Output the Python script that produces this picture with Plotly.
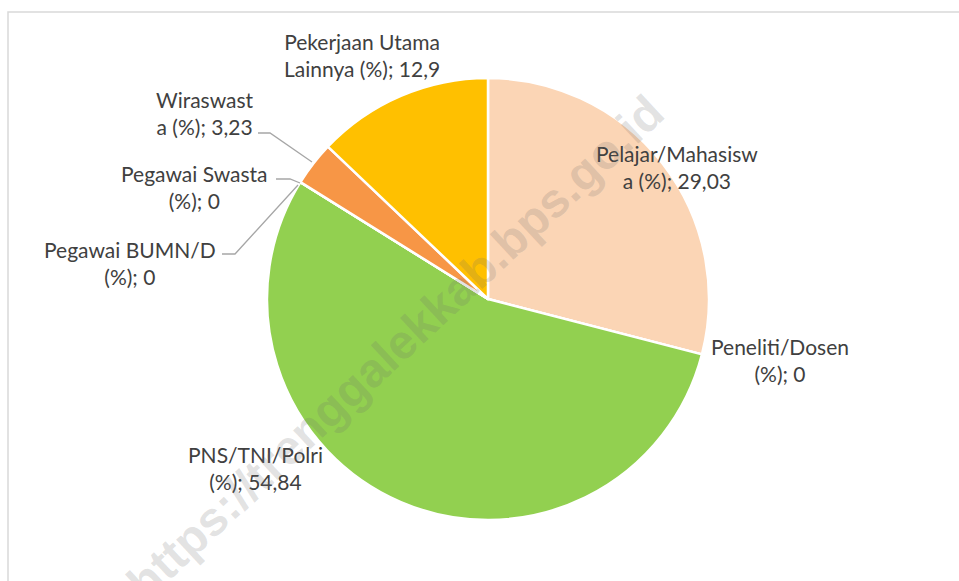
import plotly.graph_objects as go

W, H = 959, 581

categories = ["Pelajar/Mahasiswa (%)", "Peneliti/Dosen (%)", "PNS/TNI/Polri (%)",
              "Pegawai BUMN/D (%)", "Pegawai Swasta (%)", "Wiraswasta (%)",
              "Pekerjaan Utama Lainnya (%)"]
values = [29.03, 0, 54.84, 0, 0, 3.23, 12.9]
label_texts = ["Pelajar/Mahasisw<br>a (%); 29,03", "Peneliti/Dosen<br>(%); 0",
               "PNS/TNI/Polri<br>(%); 54,84", "Pegawai BUMN/D<br>(%); 0",
               "Pegawai Swasta<br>(%); 0", "Wiraswast<br>a (%); 3,23",
               "Pekerjaan Utama<br>Lainnya (%); 12,9"]
colors = ["#FBD5B5", "#5B9BD5", "#92D050", "#A5A5A5", "#4472C4", "#F79646", "#FFC000"]

def px(x, y):
    return x / W, 1 - y / H

cx, cy, r = 488, 299, 221
x0, _ = px(cx - r, 0)
x1, _ = px(cx + r, 0)
_, y1 = px(0, cy - r)
_, y0 = px(0, cy + r)

fig = go.Figure(go.Pie(
    labels=categories, values=values, sort=False, direction="clockwise",
    rotation=0, marker=dict(colors=colors, line=dict(color="white", width=2.5)),
    textinfo="none", hoverinfo="label+value", showlegend=False,
    domain=dict(x=[x0, x1], y=[y0, y1])
))

# label positions (pixel centers)
label_pos = [(677, 167), (780, 360), (255, 468), (130, 263), (194, 187), (205, 113), (362, 55)]
annotations = []
for txt, (lx, ly) in zip(label_texts, label_pos):
    ax_, ay_ = px(lx, ly)
    annotations.append(dict(x=ax_, y=ay_, xref="paper", yref="paper", text=txt,
                            showarrow=False, align="center", xanchor="center", yanchor="middle",
                            font=dict(family="Lato", size=21, color="#404040")))

# watermark
wx, wy = px(395, 347)
annotations.append(dict(x=wx, y=wy, xref="paper", yref="paper",
                        text="<b>https://trenggalekkab.bps.go.id</b>", showarrow=False,
                        textangle=-43, font=dict(family="Liberation Sans", size=48,
                                                 color="rgba(110,110,110,0.2)")))

def path(points):
    s = ""
    for i, (x, y) in enumerate(points):
        X, Y = px(x, y)
        s += ("M" if i == 0 else "L") + f"{X},{Y} "
    return s

leader = dict(color="#A6A6A6", width=1.3)
shapes = [
    dict(type="path", xref="paper", yref="paper", path=path([(258, 133), (270, 133), (312, 162)]), line=leader),
    dict(type="path", xref="paper", yref="paper", path=path([(276, 179), (290, 179), (300, 183)]), line=leader),
    dict(type="path", xref="paper", yref="paper", path=path([(222, 254), (235, 254), (298, 185)]), line=leader),
]
bx0, by0 = px(8, 12)
bx1, by1 = px(975, 600)
shapes.append(dict(type="rect", xref="paper", yref="paper", x0=bx0, y0=by1, x1=bx1, y1=by0,
                   line=dict(color="#D9D9D9", width=1.5), layer="below"))

fig.update_layout(width=W, height=H, margin=dict(l=0, r=0, t=0, b=0),
                  paper_bgcolor="white", plot_bgcolor="white",
                  annotations=annotations, shapes=shapes)
fig.write_html("out.html", config={"displayModeBar": False},
               post_script="document.body.style.margin='0';document.body.style.overflow='hidden';")
